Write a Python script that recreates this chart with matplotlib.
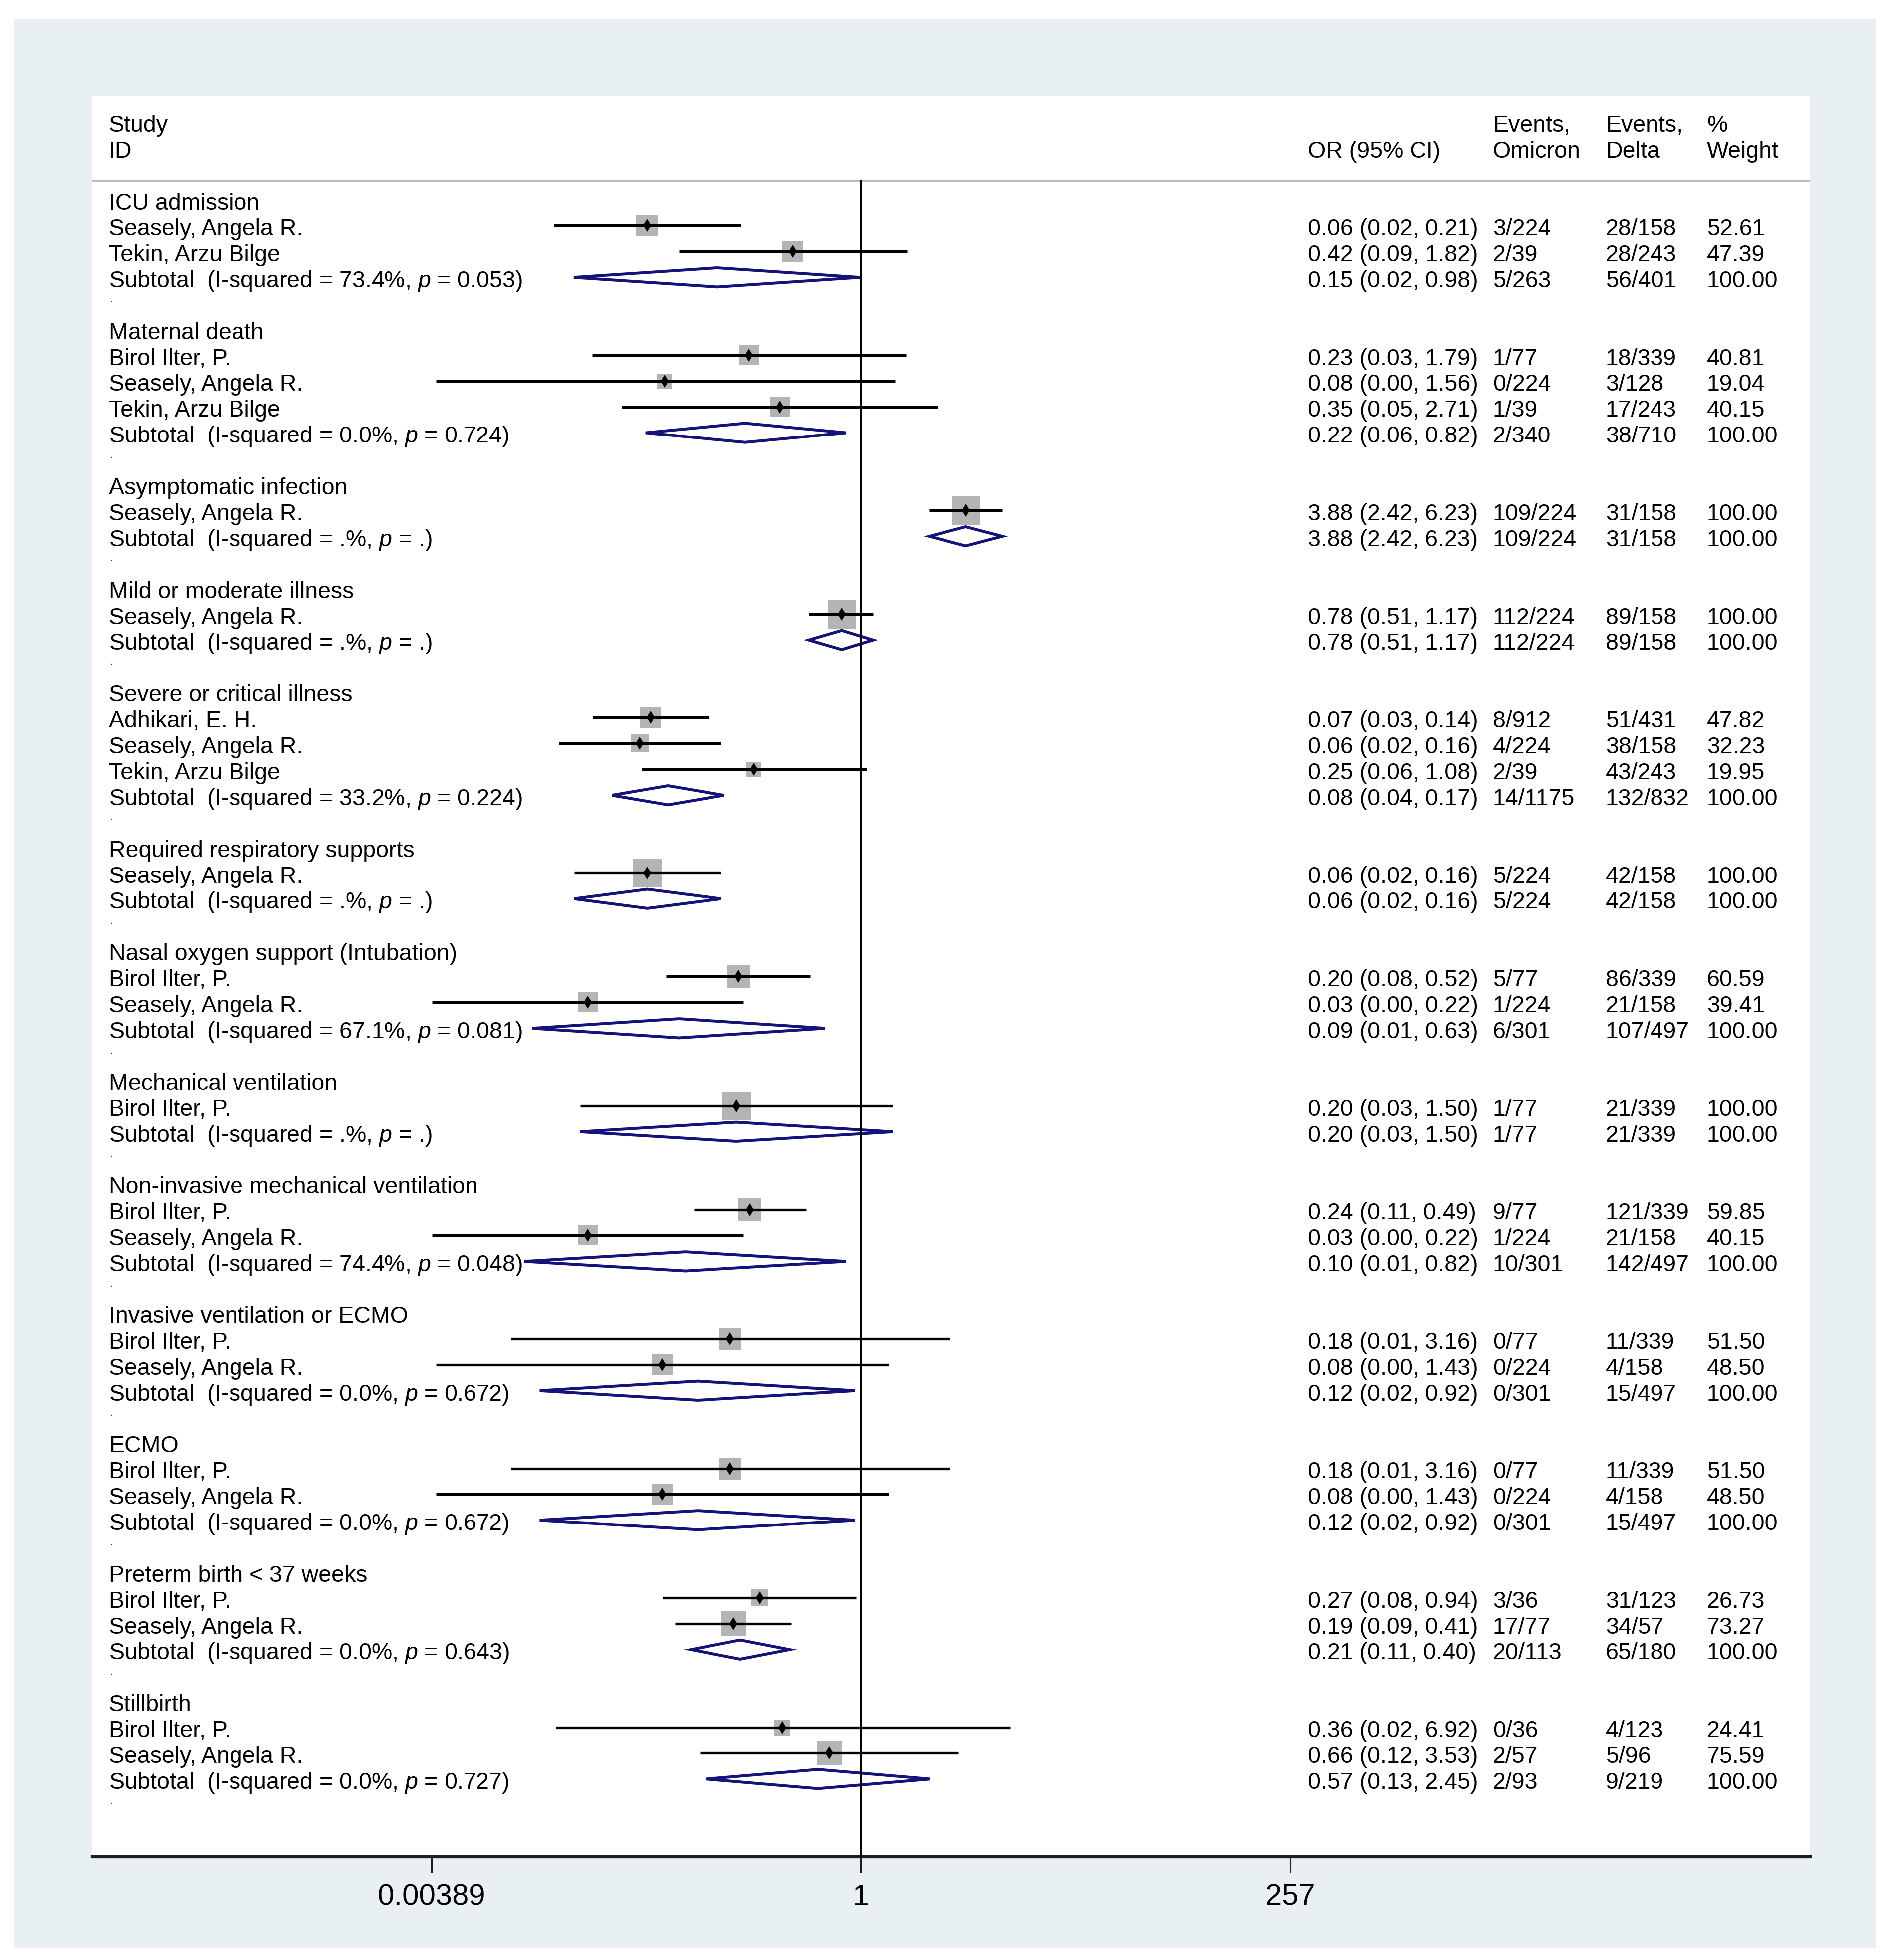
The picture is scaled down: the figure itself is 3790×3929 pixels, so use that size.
import numpy as np
import matplotlib
matplotlib.use('Agg')
import matplotlib.pyplot as plt
import matplotlib.transforms as mtransforms
from matplotlib.patches import Rectangle
from matplotlib.ticker import NullLocator

# subgroup names and how many studies each one has
group_names = ['ICU admission', 'Maternal death', 'Asymptomatic infection',
               'Mild or moderate illness', 'Severe or critical illness',
               'Required respiratory supports', 'Nasal oxygen support (Intubation)',
               'Mechanical ventilation', 'Non-invasive mechanical ventilation',
               'Invasive ventilation or ECMO', 'ECMO', 'Preterm birth < 37 weeks',
               'Stillbirth']
group_sizes = [2, 3, 1, 1, 3, 1, 2, 1, 2, 2, 2, 2, 2]

# study rows
study_ids = ['Seasely, Angela R.', 'Tekin, Arzu Bilge',
             'Birol Ilter, P.', 'Seasely, Angela R.', 'Tekin, Arzu Bilge',
             'Seasely, Angela R.',
             'Seasely, Angela R.',
             'Adhikari, E. H.', 'Seasely, Angela R.', 'Tekin, Arzu Bilge',
             'Seasely, Angela R.',
             'Birol Ilter, P.', 'Seasely, Angela R.',
             'Birol Ilter, P.',
             'Birol Ilter, P.', 'Seasely, Angela R.',
             'Birol Ilter, P.', 'Seasely, Angela R.',
             'Birol Ilter, P.', 'Seasely, Angela R.',
             'Birol Ilter, P.', 'Seasely, Angela R.',
             'Birol Ilter, P.', 'Seasely, Angela R.']
study_or = [0.0632, 0.415, 0.2355, 0.079, 0.350, 3.88, 0.78, 0.0661, 0.0572, 0.251,
            0.0632, 0.205, 0.0292, 0.1995, 0.238, 0.0292, 0.184, 0.0765, 0.184, 0.0765,
            0.270, 0.193, 0.363, 0.663]
study_lo = [0.0189, 0.0954, 0.031, 0.0041, 0.0453, 2.42, 0.51, 0.0311, 0.0201, 0.0586,
            0.0245, 0.0805, 0.0039, 0.0265, 0.1154, 0.0039, 0.0108, 0.0041, 0.0108, 0.0041,
            0.0772, 0.0907, 0.0193, 0.125]
study_hi = [0.212, 1.816, 1.79, 1.556, 2.70, 6.23, 1.17, 0.140, 0.164, 1.078,
            0.164, 0.520, 0.2196, 1.51, 0.495, 0.2196, 3.17, 1.428, 3.17, 1.428,
            0.941, 0.407, 6.90, 3.53]
study_wt = [52.61, 47.39, 40.81, 19.04, 40.15, 100.00, 100.00, 47.82, 32.23, 19.95,
            100.00, 60.59, 39.41, 100.00, 59.85, 40.15, 51.50, 48.50, 51.50, 48.50,
            26.73, 73.27, 24.41, 75.59]
study_ci_text = ['0.06 (0.02, 0.21)', '0.42 (0.09, 1.82)',
                 '0.23 (0.03, 1.79)', '0.08 (0.00, 1.56)', '0.35 (0.05, 2.71)',
                 '3.88 (2.42, 6.23)', '0.78 (0.51, 1.17)',
                 '0.07 (0.03, 0.14)', '0.06 (0.02, 0.16)', '0.25 (0.06, 1.08)',
                 '0.06 (0.02, 0.16)',
                 '0.20 (0.08, 0.52)', '0.03 (0.00, 0.22)',
                 '0.20 (0.03, 1.50)',
                 '0.24 (0.11, 0.49)', '0.03 (0.00, 0.22)',
                 '0.18 (0.01, 3.16)', '0.08 (0.00, 1.43)',
                 '0.18 (0.01, 3.16)', '0.08 (0.00, 1.43)',
                 '0.27 (0.08, 0.94)', '0.19 (0.09, 0.41)',
                 '0.36 (0.02, 6.92)', '0.66 (0.12, 3.53)']
study_ev_omicron = ['3/224', '2/39', '1/77', '0/224', '1/39', '109/224', '112/224',
                    '8/912', '4/224', '2/39', '5/224', '5/77', '1/224', '1/77',
                    '9/77', '1/224', '0/77', '0/224', '0/77', '0/224',
                    '3/36', '17/77', '0/36', '2/57']
study_ev_delta = ['28/158', '28/243', '18/339', '3/128', '17/243', '31/158', '89/158',
                  '51/431', '38/158', '43/243', '42/158', '86/339', '21/158', '21/339',
                  '121/339', '21/158', '11/339', '4/158', '11/339', '4/158',
                  '31/123', '34/57', '4/123', '5/96']

# subtotal rows
sub_i2 = ['73.4', '0.0', '.', '.', '33.2', '.', '67.1', '.', '74.4', '0.0', '0.0', '0.0', '0.0']
sub_p = ['0.053', '0.724', '.', '.', '0.224', '.', '0.081', '.', '0.048', '0.672', '0.672',
         '0.643', '0.727']
sub_or = [0.156, 0.224, 3.88, 0.78, 0.0825, 0.0632, 0.0949, 0.1995, 0.1034, 0.1215, 0.1215,
          0.210, 0.573]
sub_lo = [0.0244, 0.0617, 2.42, 0.51, 0.040, 0.0245, 0.0143, 0.0265, 0.0129, 0.0157, 0.0157,
          0.1114, 0.135]
sub_hi = [0.984, 0.826, 6.23, 1.17, 0.170, 0.164, 0.630, 1.51, 0.822, 0.927, 0.927,
          0.397, 2.44]
sub_ci_text = ['0.15 (0.02, 0.98)', '0.22 (0.06, 0.82)', '3.88 (2.42, 6.23)',
               '0.78 (0.51, 1.17)', '0.08 (0.04, 0.17)', '0.06 (0.02, 0.16)',
               '0.09 (0.01, 0.63)', '0.20 (0.03, 1.50)', '0.10 (0.01, 0.82)',
               '0.12 (0.02, 0.92)', '0.12 (0.02, 0.92)', '0.21 (0.11, 0.40)',
               '0.57 (0.13, 2.45)']
sub_ev_omicron = ['5/263', '2/340', '109/224', '112/224', '14/1175', '5/224', '6/301',
                  '1/77', '10/301', '0/301', '0/301', '20/113', '2/93']
sub_ev_delta = ['56/401', '38/710', '31/158', '89/158', '132/832', '42/158', '107/497',
                '21/339', '142/497', '15/497', '15/497', '65/180', '9/219']

tick_vals = [0.00389, 1, 257]
tick_labels = ['0.00389', '1', '257']

plt.rcParams['font.family'] = ['Liberation Sans', 'DejaVu Sans']
plt.rcParams['mathtext.fontset'] = 'custom'
plt.rcParams['mathtext.rm'] = 'Liberation Sans'
plt.rcParams['mathtext.it'] = 'Liberation Sans:italic'

FS = 33.5
navy = '#13137a'
box_grey = '#b4b4b4'

fig = plt.figure(figsize=(37.9, 39.3), dpi=100, facecolor='white')
fig.patches.append(Rectangle((0.00765, 0.0061), 0.9844, 0.984, transform=fig.transFigure,
                             facecolor='#e9f0f2', edgecolor='none', zorder=-10))
ax = fig.add_axes([0.04881, 0.05267, 0.9084, 0.8980])
ax.set_zorder(1)
ax.set_facecolor('white')
ax.set_xscale('log')
ax.set_xlim(np.exp(-9.939), np.exp(12.274))
ax.set_ylim(64, -4)

tr = mtransforms.blended_transform_factory(ax.transAxes, ax.transData)
col_id, col_or, col_om, col_de, col_wt = 0.0096, 0.7075, 0.8153, 0.8809, 0.9399
off = 0.36  # baseline below the row centre


def put(x, y, s, **kw):
    ax.text(x, y + off, s, transform=tr, fontsize=FS, va='baseline', ha='left', **kw)


# header
put(col_id, -3, 'Study')
put(col_id, -2, 'ID')
put(col_or, -2, 'OR (95% CI)')
put(col_om, -3, 'Events,')
put(col_om, -2, 'Omicron')
put(col_de, -3, 'Events,')
put(col_de, -2, 'Delta')
put(col_wt, -3, '%')
put(col_wt, -2, 'Weight')
ax.axhline(-0.75, color='#bcbcbc', lw=3.6, zorder=1)
ax.plot([1, 1], [-0.75, 64], color='black', lw=2.5, zorder=3.5, clip_on=False)

row = 0
si = 0
h = 0.37
for g, name in enumerate(group_names):
    put(col_id, row, name)
    row += 1
    for k in range(group_sizes[g]):
        side_pt = (9 + 4.8 * np.sqrt(study_wt[si])) * 0.72
        ax.plot([study_or[si]], [row], marker='s', ms=side_pt, color=box_grey, mew=0,
                ls='none', zorder=2)
        ax.plot([study_lo[si], study_hi[si]], [row, row], color='black', lw=3.8,
                solid_capstyle='butt', zorder=4)
        ax.plot([study_or[si]], [row], marker='d', ms=13, color='black', mew=0,
                ls='none', zorder=5)
        put(col_id, row, study_ids[si])
        put(col_or, row, study_ci_text[si])
        put(col_om, row, study_ev_omicron[si])
        put(col_de, row, study_ev_delta[si])
        put(col_wt, row, f'{study_wt[si]:.2f}')
        si += 1
        row += 1
    ax.fill([sub_lo[g], sub_or[g], sub_hi[g], sub_or[g]], [row, row - h, row, row + h],
            facecolor='white', edgecolor=navy, lw=4.2, joinstyle='miter', zorder=3)
    put(col_id, row, f'Subtotal  (I-squared = {sub_i2[g]}%, $\\mathit{{p}}$ = {sub_p[g]})')
    put(col_or, row, sub_ci_text[g])
    put(col_om, row, sub_ev_omicron[g])
    put(col_de, row, sub_ev_delta[g])
    put(col_wt, row, '100.00')
    row += 1
    ax.text(col_id + 0.0005, row - 0.05, '.', transform=tr, fontsize=16, va='baseline',
            ha='left', color='#333333')
    row += 1

ax.set_xticks(tick_vals)
ax.set_xticklabels(tick_labels)
ax.xaxis.set_minor_locator(NullLocator())
ax.tick_params(axis='x', length=23, width=2.2, pad=15, labelsize=43, direction='out',
               color='#1e1e1e')
ax.tick_params(axis='y', left=False, labelleft=False)
for s in ['top', 'left', 'right']:
    ax.spines[s].set_visible(False)
ax.spines['bottom'].set_linewidth(4.5)
ax.spines['bottom'].set_color('#1e1e1e')

fig.savefig('out.png', dpi=100, facecolor='white')
